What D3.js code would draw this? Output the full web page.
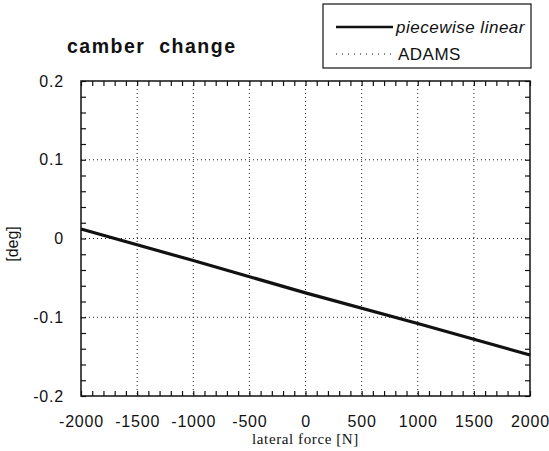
<!DOCTYPE html>
<html>
<head>
<meta charset="utf-8">
<script src="https://cdn.jsdelivr.net/npm/d3@7"></script>
<style>
  body { margin: 0; background: #fff; }
  svg { display: block; }
</style>
</head>
<body>
<div id="chart"></div>
<script>
// data
var forceKnots = [-2000, -1000, 0, 1000, 2000];
var piecewiseLinear = [0.012, -0.028, -0.069, -0.108, -0.148];
var adams = [0.012, -0.028, -0.069, -0.108, -0.148];
var xTicks = [-2000, -1500, -1000, -500, 0, 500, 1000, 1500, 2000];
var xTickLabels = ["-2000", "-1500", "-1000", "-500", "0", "500", "1000", "1500", "2000"];
var yTicks = [-0.2, -0.1, 0, 0.1, 0.2];
var yTickLabels = ["-0.2", "-0.1", "0", "0.1", "0.2"];

var W = 549, H = 451;
var plotLeft = 81, plotRight = 530, plotTop = 81, plotBottom = 396;

var svg = d3.select("#chart").append("svg")
    .attr("width", W)
    .attr("height", H);

var x = d3.scaleLinear().domain([-2000, 2000]).range([plotLeft, plotRight]);
var y = d3.scaleLinear().domain([-0.2, 0.2]).range([plotBottom, plotTop]);

var sans = "'Liberation Sans', Arial, sans-serif";

// dotted grid
svg.append("g")
    .selectAll("line")
    .data(xTicks.slice(1, -1))
    .enter().append("line")
    .attr("x1", function(d) { return x(d); })
    .attr("x2", function(d) { return x(d); })
    .attr("y1", plotTop)
    .attr("y2", plotBottom)
    .attr("stroke", "#222")
    .attr("stroke-width", 1)
    .attr("stroke-dasharray", "1,3");

svg.append("g")
    .selectAll("line")
    .data(yTicks.slice(1, -1))
    .enter().append("line")
    .attr("x1", plotLeft)
    .attr("x2", plotRight)
    .attr("y1", function(d) { return y(d); })
    .attr("y2", function(d) { return y(d); })
    .attr("stroke", "#222")
    .attr("stroke-width", 1)
    .attr("stroke-dasharray", "1,3");

// minor ticks, pointing inward on all four sides
var xMinor = d3.range(-2000, 2001, 100);
var yMinor = d3.range(-10, 11).map(function(i) { return i * 0.02; });

function tickAxes(size) {
    svg.append("g").attr("transform", "translate(0," + plotBottom + ")")
        .call(d3.axisBottom(x).tickValues(xMinor).tickSize(-size).tickFormat(""));
    svg.append("g").attr("transform", "translate(0," + plotTop + ")")
        .call(d3.axisTop(x).tickValues(xMinor).tickSize(-size).tickFormat(""));
    svg.append("g").attr("transform", "translate(" + plotLeft + ",0)")
        .call(d3.axisLeft(y).tickValues(yMinor).tickSize(-size).tickFormat(""));
    svg.append("g").attr("transform", "translate(" + plotRight + ",0)")
        .call(d3.axisRight(y).tickValues(yMinor).tickSize(-size).tickFormat(""));
}
tickAxes(5);
svg.selectAll(".domain").remove();
svg.selectAll(".tick line").attr("stroke", "#111").attr("stroke-width", 1.2);

// tick labels
svg.append("g").attr("transform", "translate(0," + plotBottom + ")")
    .call(d3.axisBottom(x).tickValues(xTicks).tickSize(0).tickPadding(20)
        .tickFormat(function(d, i) { return xTickLabels[i]; }))
    .call(function(g) { g.select(".domain").remove(); })
    .selectAll("text")
    .attr("font-family", sans)
    .attr("font-size", "16px")
    .attr("letter-spacing", "0.8px")
    .attr("fill", "#111");

svg.append("g").attr("transform", "translate(" + plotLeft + ",0)")
    .call(d3.axisLeft(y).tickValues(yTicks).tickSize(0).tickPadding(17)
        .tickFormat(function(d, i) { return yTickLabels[i]; }))
    .call(function(g) { g.select(".domain").remove(); })
    .selectAll("text")
    .attr("font-family", sans)
    .attr("font-size", "16px")
    .attr("letter-spacing", "0.8px")
    .attr("fill", "#111");

// frame
svg.append("rect")
    .attr("x", plotLeft).attr("y", plotTop)
    .attr("width", plotRight - plotLeft).attr("height", plotBottom - plotTop)
    .attr("fill", "none")
    .attr("stroke", "#111")
    .attr("stroke-width", 1.5);

// curves
var line = d3.line()
    .x(function(d, i) { return x(forceKnots[i]); })
    .y(function(d) { return y(d); });

svg.append("path")
    .datum(adams)
    .attr("d", line)
    .attr("fill", "none")
    .attr("stroke", "#111")
    .attr("stroke-width", 1)
    .attr("stroke-dasharray", "1,4");

svg.append("path")
    .datum(piecewiseLinear)
    .attr("d", line)
    .attr("fill", "none")
    .attr("stroke", "#111")
    .attr("stroke-width", 3.2);

// title
svg.append("text")
    .attr("x", 67)
    .attr("y", 53)
    .attr("font-family", sans)
    .attr("font-weight", "bold")
    .attr("font-size", "19.5px")
    .attr("letter-spacing", "1.5px")
    .attr("fill", "#111")
    .style("white-space", "pre")
    .text("camber  change");

// axis titles
svg.append("text")
    .attr("x", (plotLeft + plotRight) / 2)
    .attr("y", 444)
    .attr("text-anchor", "middle")
    .attr("font-family", "'Liberation Serif', 'Times New Roman', serif")
    .attr("font-size", "15px")
    .attr("letter-spacing", "0.6px")
    .attr("fill", "#111")
    .text("lateral force [N]");

svg.append("text")
    .attr("transform", "translate(18,244) rotate(-90)")
    .attr("text-anchor", "middle")
    .attr("font-family", sans)
    .attr("font-size", "16px")
    .attr("fill", "#111")
    .text("[deg]");

// legend
var legend = svg.append("g");
legend.append("rect")
    .attr("x", 323).attr("y", 4)
    .attr("width", 208).attr("height", 64)
    .attr("fill", "#fff")
    .attr("stroke", "#111")
    .attr("stroke-width", 1.2);

legend.append("line")
    .attr("x1", 336).attr("x2", 393)
    .attr("y1", 27).attr("y2", 27)
    .attr("stroke", "#111").attr("stroke-width", 2.5);
legend.append("text")
    .attr("x", 396).attr("y", 33)
    .attr("font-family", sans)
    .attr("font-style", "italic")
    .attr("font-size", "17px")
    .attr("letter-spacing", "0.5px")
    .attr("fill", "#111")
    .text("piecewise linear");

legend.append("line")
    .attr("x1", 336).attr("x2", 393)
    .attr("y1", 54).attr("y2", 54)
    .attr("stroke", "#111").attr("stroke-width", 1)
    .attr("stroke-dasharray", "1,5");
legend.append("text")
    .attr("x", 398).attr("y", 60)
    .attr("font-family", sans)
    .attr("font-size", "17px")
    .attr("letter-spacing", "0.5px")
    .attr("fill", "#111")
    .text("ADAMS");
</script>
</body>
</html>
